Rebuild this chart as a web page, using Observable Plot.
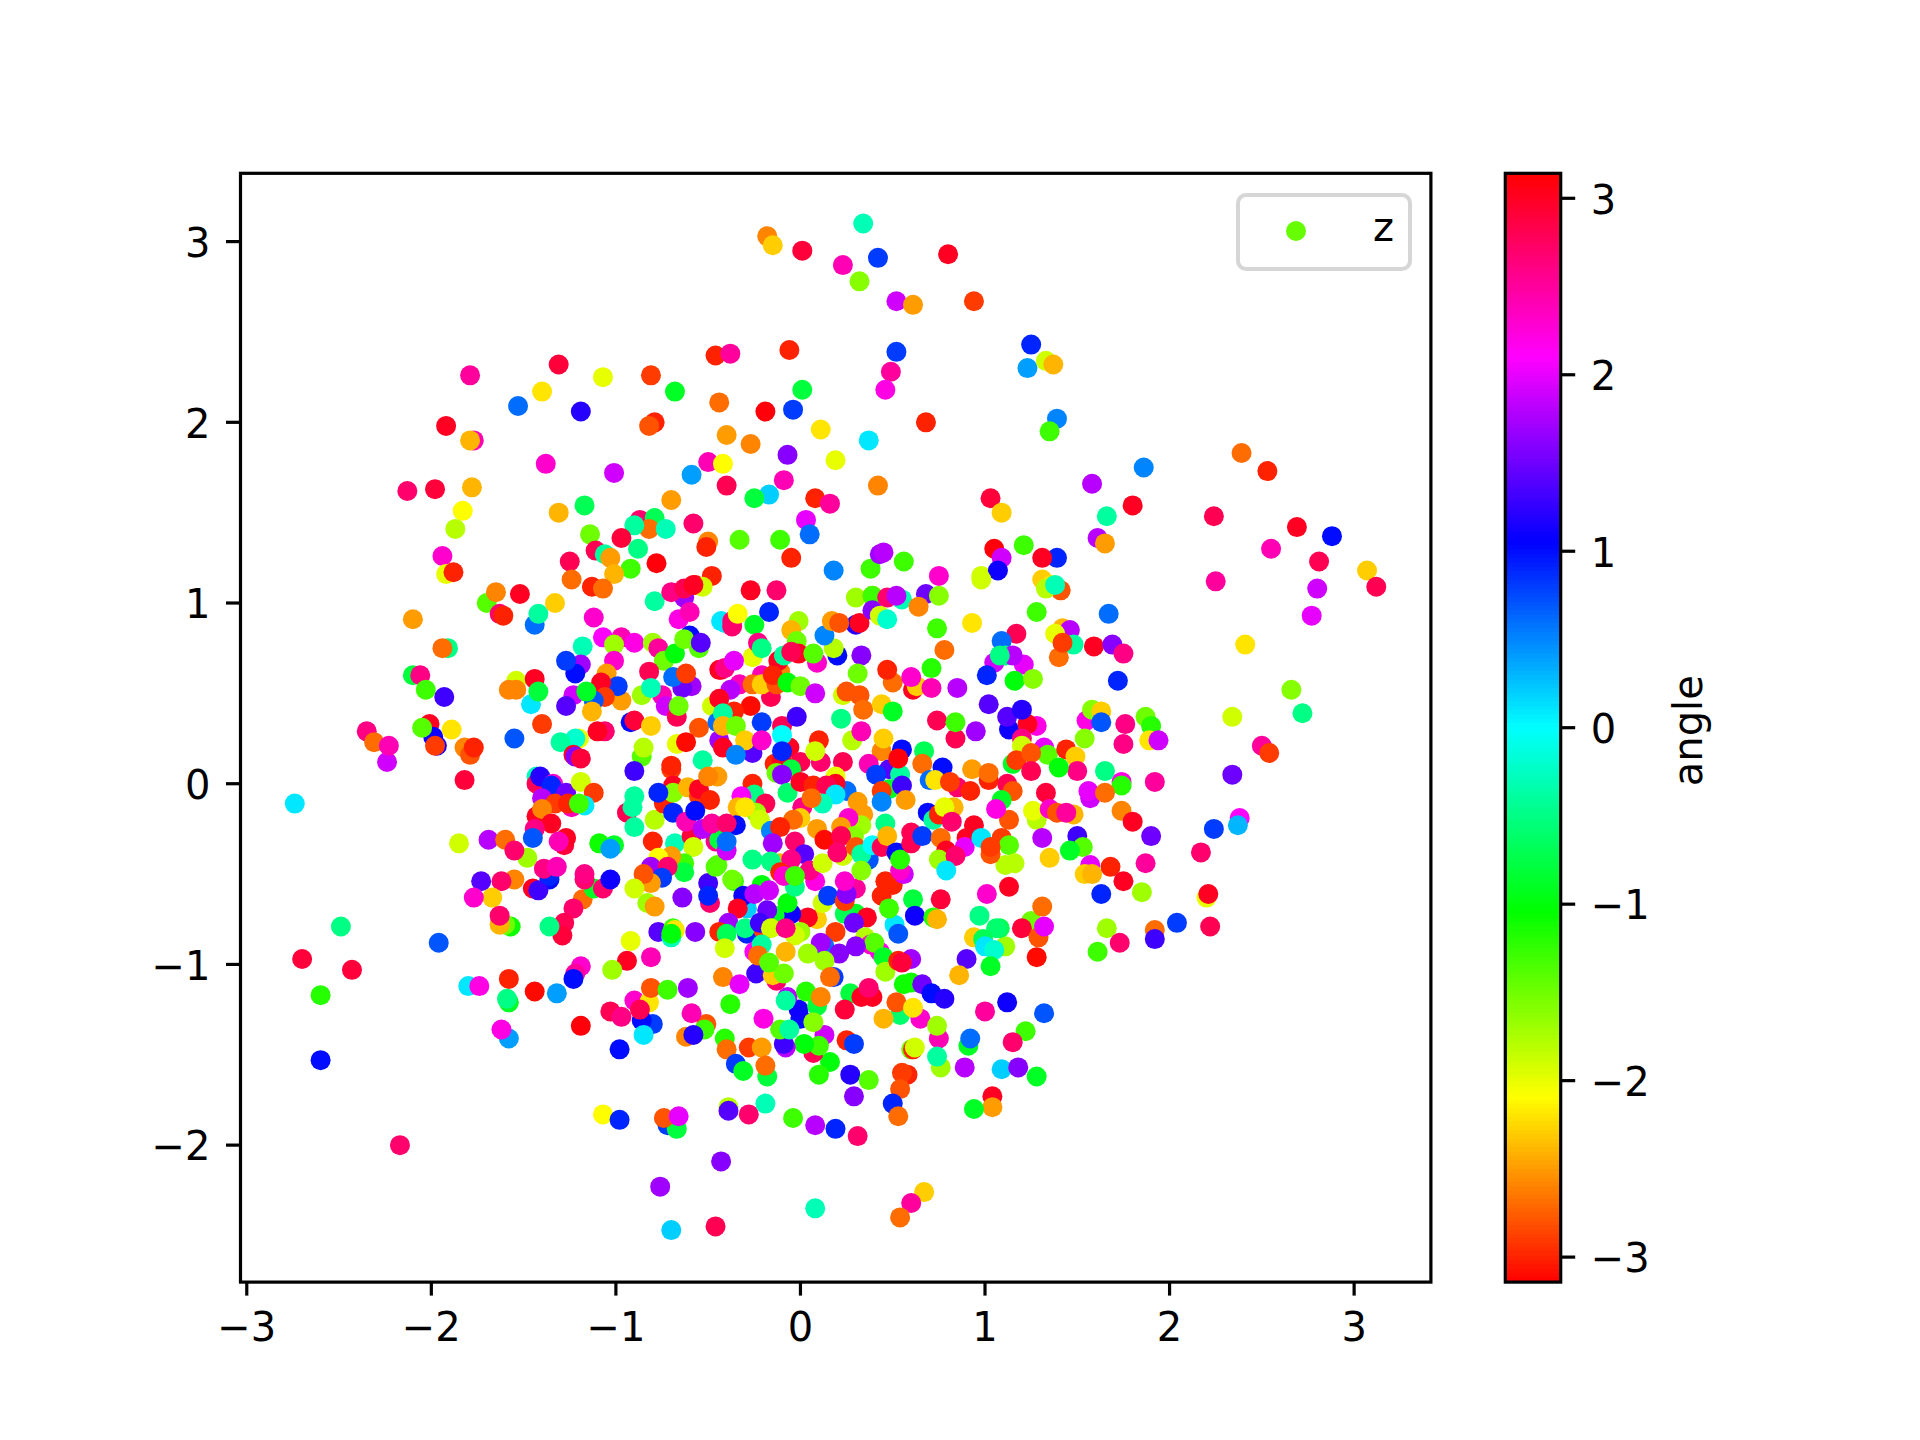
<!DOCTYPE html>
<html><head><meta charset="utf-8">
<script src="https://cdn.jsdelivr.net/npm/d3@7"></script>
<script src="https://cdn.jsdelivr.net/npm/@observablehq/plot@0.6"></script>
<style>
html,body{margin:0;padding:0;background:#fff}
#chart{position:relative;width:1920px;height:1440px;font-family:"DejaVu Sans",sans-serif;overflow:hidden}
#chart svg{position:absolute;left:0;top:0}
#legend{position:absolute;left:1236px;top:193px;width:168px;height:70px;border:4px solid rgba(204,204,204,.8);border-radius:10px;background:rgba(255,255,255,.8)}
#legend i{position:absolute;left:46px;top:24px;width:20px;height:20px;border-radius:50%}
#legend span{position:absolute;left:133px;top:10px;font-size:40px;line-height:40px;color:#000}
</style></head><body>
<div id="chart"></div>
<script>
const xTicks=[-3,-2,-1,0,1,2,3];
const yTicks=[-2,-1,0,1,2,3];
const barTicks=[-3,-2,-1,0,1,2,3];
const legendName="z";
const legendAngle=-1.47;
const barLabel="angle";
const top1=[[-.18,3.03,-2.6],[-.15,2.98,-2.3],[.01,2.95,2.9],[.34,3.1,-.3],[.42,2.91,.8],[.23,2.87,2.4],[.32,2.78,-1.6],[.8,2.93,3],[.52,2.67,1.9],[.61,2.65,-2.5],[.94,2.67,-2.9],[1.25,2.43,.9],[.52,2.39,.8],[1.23,2.3,.4],[1.33,2.34,-1.9],[1.37,2.32,-2.4],[.49,2.28,2.5],[.46,2.18,2.2],[1.39,2.02,.5],[1.35,1.95,-1.3],[.68,2,-3],[.37,1.9,.1],[-.06,2.4,-3],[.01,2.18,-.8],[-.04,2.07,.8],[.11,1.96,-2.2],[.19,1.79,-2],[-.19,2.06,3.1],[-.27,1.88,-2.6],[-.4,1.93,-2.5],[-.44,2.11,-2.7],[-.46,2.37,-3],[-.38,2.38,2.5],[-.81,2.26,-2.9],[-1.07,2.25,-2],[-1.31,2.32,2.9],[-1.79,2.26,2.5],[-1.4,2.17,-2.2],[-1.53,2.09,.6],[-1.19,2.06,1.2],[-.68,2.17,-.9],[-1.92,1.98,3],[-.79,2,-3],[-.82,1.98,-2.8],[-1.77,1.9,2.4],[-1.79,1.9,-2.4],[-.07,1.82,1.6],[-1.38,1.77,2.3],[-1.01,1.72,1.9],[-.5,1.78,2.4],[-.42,1.77,-2.1],[-.59,1.71,.4],[-.09,1.68,2.4],[-2.13,1.62,2.7],[-1.98,1.63,2.9],[-1.78,1.64,-2.4],[-1.83,1.51,-2.1],[.42,1.65,-2.6],[-.4,1.65,2.8],[-.17,1.6,.2],[-.25,1.58,-.8],[.08,1.58,-3],[.16,1.55,2.5],[-.7,1.57,-2.5],[-1.17,1.54,-.7],[-1.31,1.5,-2.4],[.03,1.46,2],[-1.87,1.41,-1.8],[-.87,1.46,2.7],[-.79,1.47,-.7],[-.82,1.41,-2.7],[-.9,1.43,-.4],[-.73,1.41,-.3],[-.58,1.44,2.7],[-1.14,1.38,-1.5],[-.97,1.36,2.9],[-.33,1.35,-1.4],[-.11,1.35,-1.3],[.05,1.38,.6],[-.5,1.34,-2.6],[-.51,1.31,-3],[-1.11,1.29,2.8],[-1.06,1.27,-.4],[-.88,1.3,-.5],[-1.03,1.25,-2.5],[-1.94,1.26,2.3],[-1.25,1.23,2.8],[-.78,1.22,3.1],[-.05,1.25,-3],[-.92,1.19,-1.3],[.38,1.19,-1.3],[.56,1.23,-1.3],[.43,1.27,1.7],[.45,1.28,1.8],[.18,1.18,.5],[.75,1.15,2.3],[-1.01,1.16,-2.4],[-1.92,1.16,-2],[-1.88,1.17,-3],[-.48,1.15,-3],[-1.24,1.13,-2.7],[-.57,1.1,-3],[-1.13,1.09,-3],[-1.07,1.08,-2.7]];
const upperRight=[[1.58,1.66,1.8],[1.86,1.75,.5],[2.39,1.83,-2.7],[2.53,1.73,-3],[1.66,1.48,-.4],[1.8,1.54,3],[1.03,1.58,2.9],[1.09,1.5,-2.3],[2.24,1.48,2.8],[2.69,1.42,3],[2.88,1.37,1],[1.61,1.36,1.8],[1.65,1.33,-2.5],[2.55,1.3,2.4],[1.05,1.3,3.1],[1.21,1.32,-1.3],[1.39,1.25,.9],[1.31,1.25,3],[2.81,1.23,2.8],[1.09,1.25,1.9],[.98,1.15,-1.9],[1.07,1.18,1.1],[2.25,1.12,2.5],[3.07,1.18,-2.3],[3.12,1.09,2.8],[2.8,1.08,1.9],[1.31,1.13,-2.3],[1.36,1.1,-2.2],[1.41,1.07,-2.8],[1.33,1.08,-1.8],[1.38,1.1,-.3],[2.77,.93,2],[1.28,.95,-1.3],[1.67,.94,.6],[2.41,.77,-2.2],[1.17,.83,2.8],[1.09,.79,.6],[1.42,.86,-2.4],[1.46,.85,1.8],[1.38,.83,-2],[1.48,.77,-.4],[1.4,.7,-2.7],[1.42,.78,-2.9],[1.59,.76,3],[1.69,.77,1.6],[1.75,.72,2.6],[1.11,.71,-.5],[1.21,.66,2],[1.15,.71,1.8],[1.16,.57,-1],[1.26,.58,-1.6],[1.72,.57,.9],[2.66,.52,-1.6],[2.72,.39,-.5],[2.34,.37,-1.9],[1.87,.37,-1.5],[1.9,.32,-1.2],[1.89,.24,-2.2],[1.94,.24,1.9],[1.55,.35,2.2],[1.58,.41,-1.6],[1.63,.4,-2.3],[1.63,.34,.7],[1.76,.33,2.6],[1.75,.22,2.6],[1.54,.25,-1.6],[1.13,.3,1.1],[1.28,.32,2.2],[1.23,.33,3],[1.12,.37,1.4],[1.2,.41,1.2],[1.2,.25,2.6],[1.2,.21,-1.9],[1.32,.2,2],[1.34,.16,-1.4],[1.44,.19,-3],[1.49,.15,-2.3],[1.15,.11,-.9],[1.17,.13,-2.9],[1.25,.17,-2.8],[1.25,.07,2.8],[1.5,.07,2.6],[1.4,.09,-1],[1.65,.07,-.5],[1.74,.01,2.2],[1.74,-.01,-1.2],[1.92,.01,2.5],[2.5,.21,2.5],[2.54,.17,-2.9],[2.34,.05,1.5],[1.12,0,2.8],[1.15,-.04,-2.8],[1.33,-.05,2.9],[1.57,-.08,1.9],[1.56,-.04,2],[1.65,-.05,-2.7],[1.74,-.15,-2.6],[1.8,-.21,3],[1.28,-.2,-1.8],[1.26,-.15,-2],[1.35,-.14,2.3],[1.39,-.16,-2.8],[1.48,-.17,-2.4],[1.44,-.16,2.5],[1.13,-.2,-2.8]];
const lowerRight=[[1.31,-.3,1.8],[1.5,-.29,1.3],[1.9,-.29,1.5],[1.53,-.35,-1.4],[1.46,-.37,-.9],[1.35,-.41,-2.3],[1.87,-.44,2.5],[2.17,-.38,2.7],[2.24,-.25,.8],[2.38,-.19,2.1],[2.37,-.23,.3],[1.57,-.45,2],[1.54,-.5,-2.3],[1.58,-.5,-2.4],[1.68,-.46,-3],[1.75,-.54,3],[1.85,-.6,-1.7],[1.63,-.61,.9],[1.13,-.57,3],[2.2,-.63,-2],[2.21,-.61,3],[1.09,-.3,-2.9],[1.13,-.34,-1.4],[1.16,-.44,-1.8],[1.11,-.45,-1.8],[1.25,-.76,-1.5],[1.31,-.68,-2.7],[1.2,-.8,2.9],[1.29,-.85,-2.8],[1.32,-.79,2],[1.28,-.96,-3.1],[1.11,-.9,-1.7],[1.08,-.8,-.7],[1.66,-.8,-1.7],[1.73,-.88,2.7],[1.61,-.93,-1.3],[1.92,-.81,-2.7],[1.92,-.86,1.3],[2.04,-.77,.8],[2.22,-.79,2.8],[1.12,-1.21,1.1],[1.32,-1.27,.7],[1.22,-1.37,-1.3],[1.15,-1.43,2.7],[1.09,-1.58,.2],[1.18,-1.57,1.6],[1.28,-1.62,-.9],[1.04,-1.73,3],[1.04,-1.79,-2.5]];
const lowerMid=[[1.01,-.61,2.3],[.76,-.64,2.9],[.61,-.64,-.8],[.62,-.73,1.1],[.72,-.74,-1.2],[.74,-.75,-2.4],[.97,-.73,-.5],[1.06,-.8,-.6],[.94,-.85,-2.3],[.99,-.86,-.7],[1,-.9,.1],[1.05,-.92,-.2],[.9,-.97,1.4],[1.03,-1.01,-.9],[.86,-1.06,-2.4],[1,-1.26,2.5],[.91,-1.45,-.9],[.92,-1.41,.6],[.89,-1.57,1.8],[.94,-1.8,-.9],[.51,-.78,.1],[.53,-.83,.7],[.44,-.62,-3],[.48,-.69,-1.3],[.3,-.72,-.9],[.24,-.72,-.7],[.36,-.74,3],[.29,-.77,1.5],[.19,-.82,-2.9],[.35,-.85,-1.8],[.38,-.89,2.3],[.43,-.93,2.2],[.4,-.88,-1.4],[.3,-.9,1.6],[.13,-.9,.6],[.11,-.88,1.7],[.21,-.94,1.6],[.13,-.98,-1.7],[.04,-.94,-1.7],[.09,-.75,-2.3],[.04,-.74,3],[.45,-.96,-.9],[.46,-1.04,-1.7],[.6,-.97,1.7],[.53,-.98,-3],[.55,-.99,2.9],[.56,-1.11,-1.1],[.6,-1.1,-1.1],[.66,-1.11,1.5],[.71,-1.16,1],[.78,-1.19,1.2],[.18,-1.07,.8],[.16,-1.07,-2.7],[.27,-1.16,-.8],[.33,-1.18,3],[.39,-1.18,3],[.37,-1.13,2.7],[.24,-1.25,2.9],[.54,-1.28,-.6],[.52,-1.21,-2.8],[.65,-1.3,2.3],[.61,-1.24,-2.2],[.45,-1.3,-2.4],[.75,-1.41,2.4],[.74,-1.34,-1.7],[.6,-1.47,-1.5],[.61,-1.47,-3],[.62,-1.46,-1.9],[.76,-1.57,-1.7],[.74,-1.51,-.4],[.58,-1.61,-3],[.55,-1.6,-2.9],[.54,-1.69,-2.8],[.5,-1.77,.9],[.53,-1.84,-2.7],[.27,-1.61,1.2],[.37,-1.64,-1.4],[.29,-1.73,1.6],[.16,-1.54,-1],[.1,-1.61,-1.2],[.25,-1.42,-3],[.29,-1.44,.8],[.07,-1.49,2.8],[.13,-1.39,1.9],[.1,-1.45,-1.3],[.02,-1.44,-1],[-.08,-1.46,1.8],[-.09,-1.44,1.3],[-.11,-1.36,-1.4],[0,-1.3,1],[-.01,-1.25,1.1],[.09,-1.23,-.8],[-.07,-1.18,1.8],[-.08,-1.2,-.4],[-.06,-1.36,-.4],[.07,-1.32,-1.6],[.03,-1.15,-1.2],[.11,-1.18,-2.6],[-.2,-1.3,2.2],[-.38,-1.22,-1.2],[-.42,-1.07,-2.6],[-.33,-1.11,2],[-.24,-1.05,1.3],[-.13,-1.09,2.7],[-.15,-1.06,-2.3],[-.09,-1.05,-1.5],[-.51,-1.33,-2.8],[-.52,-1.36,-1.3],[-.41,-1.41,-1.2],[-.4,-1.47,-2.7],[-.28,-1.46,-2.9],[-.21,-1.46,-2.5],[-.35,-1.55,.8],[-.31,-1.59,-.9],[-.18,-1.62,-.8],[-.19,-1.56,-2.7],[-.39,-1.79,-1.8],[-.39,-1.81,1.4],[-.28,-1.83,2.7],[-.19,-1.77,-.3],[-.04,-1.85,-1.3],[.08,-1.89,1.8],[.19,-1.91,.9],[.31,-1.95,2.7],[-.43,-2.09,1.6],[.67,-2.26,-2.3],[.6,-2.32,2.5],[.08,-2.35,-.3],[.54,-2.4,-2.7],[-.46,-2.45,2.8],[-.7,-2.47,.2],[-.76,-2.23,1.7]];
const lowerDense=[[-.5,-.55,1.3],[-.36,-.54,-1.3],[-.49,-.66,2.7],[-.5,-.62,.9],[-.29,-.69,.2],[-.31,-.62,1.1],[-.34,-.69,3],[-.21,-.56,-1],[-.25,-.61,1.8],[-.17,-.59,1.9],[-.05,-.72,1.1],[-.14,-.73,-.9],[-.07,-.66,-1],[-.18,-.7,1.5],[-.03,-.57,-.5],[.08,-.54,2.2],[.12,-.66,-1.9],[.15,-.62,.8],[.24,-.65,-2.9],[.3,-.58,2.5],[.25,-.61,1.6],[.5,-.56,-3],[.46,-.54,-3],[-.39,-.77,1.7],[-.44,-.82,-3],[-.4,-.83,-.7],[-.29,-.83,.9],[-.3,-.8,-.5],[-.41,-.91,-1.9],[-.2,-.81,-2.9],[-.22,-.77,1.3],[0,-.82,-1.7],[-.03,-.84,-1.9],[-.16,-.8,-1.9],[-.08,-.8,2.6],[-.25,-.93,2.1],[-.21,-.89,-.4],[-.23,-.95,-2.7],[-.08,-.93,-2.4],[-.17,-.99,-1.4]];
const lowerLeft=[[-1.73,-.54,1.4],[-1.55,-.53,-2.6],[-1.62,-.54,2.7],[-1.67,-.63,-2.3],[-1.77,-.63,2.3],[-1.36,-.53,1],[-1.45,-.58,3],[-1.42,-.59,1.3],[-1.57,-.79,-1.1],[-1.6,-.78,-1.5],[-1.63,-.78,-2.4],[-1.63,-.73,2.7],[-1.18,-.64,-2.7],[-1.23,-.69,2.7],[-1.28,-.77,2.8],[-1.29,-.84,2.9],[-1.36,-.79,-.5],[-1.12,-.58,-.9],[-1.07,-.58,2.7],[-1.17,-.53,2.7],[-1.03,-.53,1.1],[-1.96,-.88,.7],[-.92,-.87,-2],[-.94,-.98,3],[-.81,-.96,2.4],[-1.02,-1.03,-1.7],[-1.19,-1.01,2.3],[-1.22,-1.05,2.5],[-1.23,-1.08,1],[-1.58,-1.08,-3],[-1.44,-1.15,-3.1],[-1.32,-1.16,.4],[-1.8,-1.12,.1],[-1.74,-1.12,2.2],[-1.58,-1.21,-.9],[-1.59,-1.19,-.5],[-1.58,-1.41,.4],[-1.62,-1.36,2.2],[-1.19,-1.34,3.1],[-1.03,-1.26,2.8],[-.97,-1.29,2.6],[-.8,-1.33,.8],[-.86,-1.31,1],[-.9,-1.2,2.3],[-.82,-1.21,-2.2],[-.87,-1.25,2.8],[-.85,-1.39,.1],[-.98,-1.47,1],[-.81,-1.13,-2.8],[-.72,-1.14,-1.3],[-.61,-1.13,1.7],[-.59,-1.27,2.4],[-.62,-1.4,-2.6],[-.58,-1.39,1.2],[-.77,-.82,1.4],[-.69,-.8,-1.3],[-.68,-.81,-2.2],[-.7,-.85,-.3],[-.7,-.83,-1],[-.57,-.82,1.6],[-.64,-.63,1.6],[-.83,-.66,-1.7],[-.79,-.68,-2.5],[-1.07,-1.83,-2.1],[-.98,-1.86,.9],[-.72,-1.89,.8],[-.67,-1.91,-.8],[-.74,-1.85,-2.8],[-.66,-1.84,2],[-2.17,-2,2.7],[-2.74,-.11,.1],[-2.49,-.79,-.5],[-2.7,-.97,2.9],[-2.43,-1.03,2.9],[-2.6,-1.17,-1.2],[-2.6,-1.53,1],[-2.35,.29,2.6],[-2.31,.23,-2.7],[-2.24,.12,1.9],[-2.23,.21,2.4]];
const midLeft=[[-1.91,.75,-.5],[-1.94,.75,-2.7],[-2.1,.91,-2.5],[-1.7,1,-1.4],[-1.65,1.06,-2.6],[-1.52,1.05,3],[-1.63,.94,2.7],[-1.61,.93,-3],[-1.44,.88,.6],[-1.42,.94,-.4],[-1.33,1,-2.3],[-.79,1.01,-.4],[-.63,1.03,1.7],[-.7,1.06,2.6],[-.53,1.09,-1.9],[-.63,1.08,2.8],[-.58,1.1,3],[-1.12,.92,2.3],[-.66,.91,2.2],[-.6,.95,2.4],[-.43,.9,.1],[-1.18,.76,-.3],[-1.19,.66,1.7],[-1.22,.61,1],[-1.27,.68,.8],[-1.07,.81,2.1],[-.97,.81,2.4],[-.9,.78,2.2],[-1.01,.77,-1.7],[-1.01,.68,2.3],[-.8,.78,-1.7],[-.77,.75,2.5],[-.74,.68,-1.5],[-.68,.72,-1],[-.6,.82,1],[-.55,.75,-1.4],[-.63,.8,-1.5],[-.54,.78,1.4],[-.82,.62,2.8],[-.59,.54,1.7],[-.64,.53,1.5],[-.69,.59,.6],[-.62,.61,-2.9],[-.43,.63,2.8],[-.86,.49,-1.7],[-.75,.49,2.4],[-.81,.53,-.3],[-.73,.43,1.9],[-.67,.37,2.8],[-.66,.43,-1.5],[-.48,.43,-1.9],[-1.05,.61,-2.5],[-.97,.46,-2.5],[-.99,.54,.8],[-1.08,.56,3],[-1.06,.48,-2.9],[-1.12,.46,.7],[-1.23,.49,1.9],[-1.16,.51,-.9],[-1.27,.43,1.4],[-1.13,.4,-2.4],[-1.54,.57,-1.9],[-1.44,.58,3],[-1.58,.52,-2.6],[-1.54,.52,-2.6],[-1.46,.44,.1],[-1.42,.51,-.8],[-2.1,.6,-.8],[-2.06,.6,2.6],[-2.03,.52,-1.3],[-1.93,.48,1.3],[-2.01,.33,3],[-1.99,.26,1.1],[-2.05,.31,-1.4],[-1.97,.21,1.1],[-1.98,.21,-2.9],[-1.89,.3,-2.2],[-1.82,.2,-2.6],[-1.79,.16,-2.8],[-1.77,.2,-3],[-1.82,.02,2.9],[-1.55,.25,.7],[-1.4,.33,-2.9],[-1.2,.25,-2],[-1.22,.25,-.2],[-1.3,.23,-.4],[-1.06,.29,2.7],[-1.1,.29,3],[-1.23,.16,3],[-1.22,.15,1.6],[-1.19,.14,2.9],[-.92,.34,1],[-.9,.35,2.9],[-.81,.32,-2.3],[-.55,.31,-2.8],[-.67,.22,-2],[-.62,.23,-3.1],[-.53,.13,-.4],[-.44,.24,1.7],[-.45,.34,.6],[-.45,.04,-2.5],[-.86,.15,-1.4],[-.85,.2,-1.8],[-.9,.07,1.3],[-.7,.08,-2.9],[-.7,.1,-3]];
const centerLeft=[[-1.43,.04,-.3],[-1.43,0,2.8],[-1.41,.04,1.2],[-1.34,0,2.3],[-1.35,-.01,.9],[-1.27,-.05,1.5],[-1.4,-.08,1.8],[-1.19,.01,-1.9],[-1.12,-.05,-2.9],[-1.33,-.11,-2.9],[-1.24,-.13,2.4],[-1.26,-.11,-3],[-1.17,-.12,.1],[-1.2,-.11,-1.3],[-1.43,-.18,3],[-1.4,-.14,-2.6],[-1.35,-.22,3],[-1.44,-.25,2.6],[-1.45,-.3,.7],[-1.28,-.34,2.9],[-1.27,-.3,3],[-1.31,-.32,2.4],[-1.85,-.33,-1.9],[-1.69,-.31,1.8],[-1.6,-.31,-2.7],[-1.48,-.41,-1.7],[-1.55,-.37,2.7],[-1.09,-.33,-1.1],[-1.01,-.34,-.9],[-1.03,-.36,.4],[-.8,-.32,-3],[-.68,-.33,-.3],[-.59,-.29,2.9],[-.58,-.35,-1.9],[-.46,-.32,2.6],[-.44,-.31,-.8],[-.94,-.16,2.8],[-.9,-.07,-.4],[-.91,-.13,-.4],[-.9,-.24,-.4],[-.79,-.2,-1.8],[-.69,-.01,3],[-.74,-.11,-3],[-.69,-.05,-1.6],[-.77,-.05,.9],[-.61,-.02,-2.4],[-.55,-.07,-2.9],[-.55,-.03,3],[-.49,-.09,-3],[-.69,-.16,.9],[-.62,-.21,2.4],[-.57,-.15,1],[-.53,-.25,1.8],[-.48,-.22,2.5],[-1.36,-.51,.9],[-1.39,-.47,2.6],[-1.32,-.46,2.4],[-1.17,-.5,2.6],[-.63,-.44,-1.3],[-.63,-.49,-.8],[-.7,-.4,-2.5],[-.77,-.41,-2.1],[-.81,-.46,1.7],[-.72,-.46,2.7],[-.75,-.52,.8],[-.81,-.55,-2.5],[-.85,-.5,-2.8],[-.9,-.58,-1.9],[-.45,-.45,-1.4]];
const midCenter=[[-.27,1.07,3],[-.13,1.07,2.7],[-.17,.95,.9],[-.41,.89,.1],[-.37,.87,2.7],[-.37,.9,2.7],[-.34,.94,-2.1],[-.25,.88,-.9],[-.01,.9,-1.7],[-.05,.85,-2.4],[-.02,.79,-1.5],[-.26,.7,-2],[-.23,.78,2.6],[-.21,.75,-.5],[-.11,.62,-2.6],[-.12,.68,3],[-.09,.71,-.4],[-.01,.72,3],[-.05,.73,2.8],[.09,.67,2.3],[.07,.72,-1.4],[.2,.71,1],[.18,.75,-1.8],[.13,.82,.5],[.17,.9,-2.5],[.3,.88,1.2],[.21,.89,-2.8],[.32,.89,3],[.3,1.03,-1.7],[.39,1.04,-2.5],[.39,1.04,-1.3],[.39,.96,1.6],[.55,1.02,-.3],[.47,1.03,2.7],[.52,1.04,1.8],[.43,.93,-1.9],[.47,.91,-.2],[.68,1.05,1.5],[.75,1.04,-1.6],[.64,.98,-2.6],[.74,.86,-1.3],[.93,.89,-2.2],[.78,.74,-2.7],[.98,1.13,-1.9],[.33,.71,1.6],[.31,.61,-1.5],[.5,.56,-2.7],[.47,.63,-3],[.61,.52,3],[.63,.54,-2.3],[.6,.59,2.3],[.71,.64,-1.2],[.71,.53,2.4],[.85,.53,1.8],[1.05,.67,1.9],[1.08,.71,-.5],[1.01,.6,.9],[1.02,.44,1.4],[.74,.35,2.8],[.84,.25,2.8],[.84,.34,-1.3],[.95,.29,1.7],[-.44,.63,3],[-.41,.64,2.6],[-.36,.68,2],[-.33,.55,2.4],[-.21,.6,2.4],[-.26,.55,-2.7],[-.16,.48,2.8],[-.21,.55,-2.3],[-.13,.55,-2.8],[-.15,.6,-3],[-.07,.56,-1],[0,.54,-1.5],[.08,.5,1.9],[-.38,.52,1.8],[-.44,.47,3],[-.27,.43,-3.1],[-.36,.4,-3],[-.42,.39,-.4],[-.42,.32,-2.4],[-.35,.32,-1.5],[-.21,.34,.8],[-.26,.17,1.4],[-.3,.24,-2.3],[-.42,.2,3],[-.35,.16,.5],[-.21,.24,2.3],[-.1,.32,2.8],[-.02,.37,1.3],[-.06,.2,3],[-.1,.27,0],[-.14,.11,-3],[0,.12,2.8],[.11,.12,2.7],[.23,.12,2.8],[-.1,.13,3],[-.1,.18,.9],[.1,.24,-3],[.08,.18,-1.9],[-.13,.06,-1.5],[-.05,.08,-.8],[-.1,.05,1.6],[.22,.36,-.5],[.28,.24,-1.8],[.33,.29,2.4],[.23,.49,-1.9],[.25,.51,-2.8],[.32,.49,-2.8],[.34,.41,-2.7],[.44,.44,-2.3],[.5,.4,-.9],[.44,.18,-2.6],[.55,.19,1],[.45,.25,-2.3],[.48,.08,1.4],[.54,.05,-.4],[.53,.14,3.1],[.67,.18,-.7],[.66,.11,-2.7],[.37,.11,2.4],[.41,.05,.8],[.77,.09,1],[.93,.08,-2.5],[1.02,.02,-3],[1.02,.06,-2.7]];
const center=[[.7,.02,.6],[.73,.02,-2.2],[.85,-.02,2.7],[.81,.01,-2.9],[.92,-.04,-3],[-.26,0,-3],[-.5,.04,-2.6],[-.07,-.05,-.6],[0,.01,3],[.25,-.04,.6],[.19,.04,-2],[.07,-.01,-3],[.19,0,3],[.14,-.01,2.8],[.19,-.06,.1],[.12,-.11,-.3],[.01,-.13,2.6],[.06,-.08,-2.7],[.31,-.1,-2.5],[.34,-.17,-2.5],[.33,-.23,-1.7],[.26,-.19,2.3],[.22,-.24,-2.5],[.09,-.25,-2.5],[.29,-.29,-1.6],[.13,-.31,-3.1],[.22,-.29,2.8],[-.25,-.06,-.5],[-.19,-.11,2.8],[-.32,-.07,2.1],[-.24,-.16,-1.7],[-.34,-.13,-2.4],[-.3,-.13,-2.2],[-.22,-.2,-1.9],[-.35,-.23,1],[-.4,-.22,2.7],[-.4,-.37,1.9],[-.4,-.32,.6],[-.16,-.26,.5],[0,-.19,-2.3],[-.04,-.2,-2.7],[-.11,-.24,-3],[-.15,-.33,1.7],[-.03,-.32,2.7],[.02,-.39,1.4],[-.26,-.42,-.5],[-.11,-.44,-2.4],[-.05,-.42,2.6],[-.16,-.43,-.5],[-.46,-.46,-1.4],[-.37,-.53,-1.5],[.05,-.48,2.6],[.12,-.44,-1.9],[.23,-.4,-1.9],[-.11,-.49,-3],[-.09,-.51,2.3],[-.03,-.51,-1.3],[.24,-.54,2.3],[.2,-.38,2.7],[.37,-.42,.7],[.3,-.35,-2.8],[.33,-.39,-.4],[.39,-.34,0],[.33,-.48,-1.6],[.46,-.22,-.5],[.44,-.35,2.8],[.47,-.29,-2.4],[.52,-.38,1],[.56,-.5,1.9],[.54,-.48,2.3],[.54,-.42,-1.2],[.48,-.03,-.9],[.44,-.04,-2.9],[.44,-.1,.5],[.55,-.01,1.3],[.57,-.09,-2.5],[.69,-.16,1],[.72,-.2,-.4],[.75,-.17,-3],[.83,-.13,-2.4],[.78,-.13,-2],[.82,-.21,2.7],[.94,-.23,3],[1.09,-.09,-.9],[1.06,-.14,2.2],[.6,-.27,2.8],[.6,-.33,2.8],[.66,-.29,.8],[.76,-.3,-2.7],[.79,-.37,3],[.9,-.3,3],[.89,-.35,2],[.98,-.3,.1],[1.03,-.39,-2.8],[1.03,-.35,-2.9],[.75,-.42,-1.7],[.84,-.4,2.7],[.79,-.48,.1]];
const points=[...top1,...upperRight,...lowerRight,...lowerMid,...lowerDense,...lowerLeft,...midLeft,...centerLeft,...midCenter,...center];

const xDomain=[-3.034,3.416];
const yDomain=[-2.758,3.378];
const angleDomain=[-Math.PI,Math.PI];
const hsv=t=>d3.hsl(t*360,1,.5).formatRgb();
const colorOpts={type:"linear",domain:angleDomain,interpolate:hsv};
const font="DejaVu Sans";
const axisOpts={tickSize:14,tickPadding:16,fontSize:40,strokeWidth:3.2,strokeOpacity:1,stroke:"#000",fill:"#000",label:null,tickFormat:"d"};
const tickOnly={...axisOpts,fill:"none"};
const labelOnly={...axisOpts,tickSize:0,tickPadding:30,dy:2.5};

const main=Plot.plot({
  width:1920,height:1440,marginLeft:240,marginRight:489.6,marginTop:172.8,marginBottom:158.4,
  style:{fontFamily:font,background:"#fff",overflow:"visible"},
  x:{domain:xDomain},y:{domain:yDomain},color:colorOpts,
  marks:[
    Plot.dot(points,{x:d=>d[0],y:d=>d[1],fill:d=>d[2],r:10,stroke:null}),
    Plot.axisX({...axisOpts,ticks:xTicks}),
    Plot.axisY({...tickOnly,ticks:yTicks}),
    Plot.axisY({...labelOnly,ticks:yTicks}),
    Plot.frame({stroke:"#000",strokeWidth:3.2})
  ]
});

const levelCount=256;
const levels=d3.range(levelCount);
const step=(angleDomain[1]-angleDomain[0])/levelCount;
const bar=Plot.plot({
  width:1920,height:1440,marginLeft:1504.8,marginRight:359.8,marginTop:172.8,marginBottom:158.4,
  style:{fontFamily:font,background:"transparent",overflow:"visible"},
  x:{domain:[0,1],axis:null},y:{domain:angleDomain},color:colorOpts,
  marks:[
    Plot.rect(levels,{x1:0,x2:1,y1:i=>angleDomain[0]+i*step,y2:i=>angleDomain[0]+(i+1)*step,fill:i=>angleDomain[0]+(i+.5)*step,shapeRendering:"crispEdges"}),
    Plot.axisY({...tickOnly,ticks:barTicks,anchor:"right"}),
    Plot.axisY({...labelOnly,ticks:barTicks,anchor:"right"}),
    Plot.frame({stroke:"#000",strokeWidth:3.2}),
    Plot.text([barLabel],{frameAnchor:"right",text:d=>d,rotate:-90,dx:128,dy:3,fontSize:40,fill:"#000",textAnchor:"middle"})
  ]
});

const chart=document.getElementById("chart");
chart.append(main,bar);
const legend=document.createElement("div");
legend.id="legend";
const swatch=document.createElement("i");
swatch.style.background=hsv((legendAngle-angleDomain[0])/(angleDomain[1]-angleDomain[0]));
const name=document.createElement("span");
name.textContent=legendName;
legend.append(swatch,name);
chart.append(legend);
</script>
</body></html>
